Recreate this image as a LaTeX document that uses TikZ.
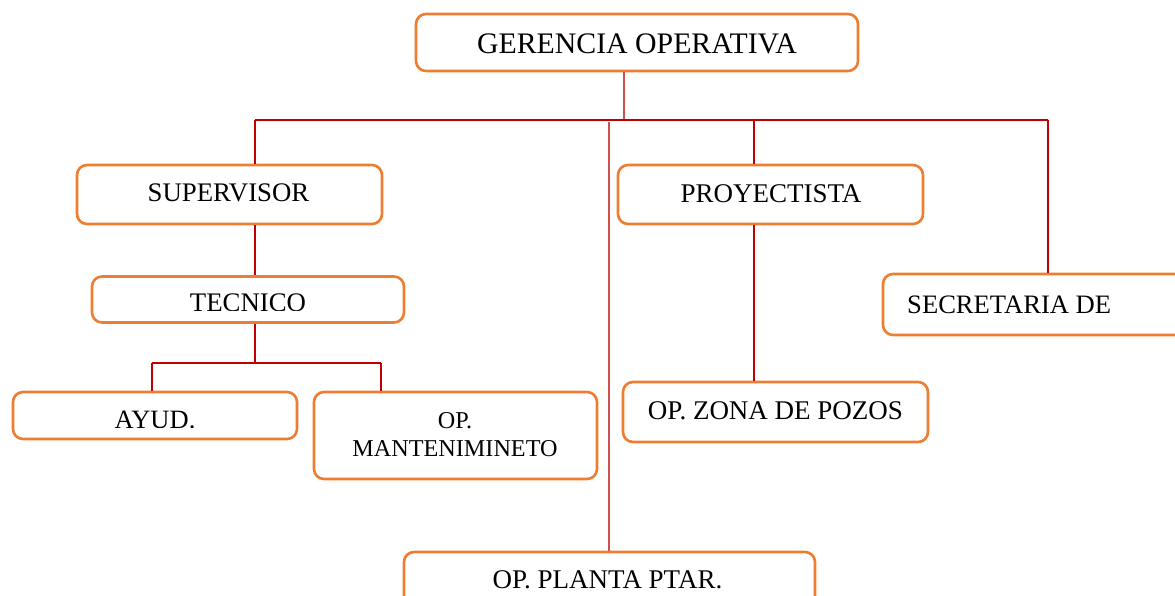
\documentclass[tikz,border=0pt]{standalone}
\usepackage{fontspec}
\setmainfont{Liberation Serif}
\definecolor{boxorange}{HTML}{ED7D31}
\definecolor{linered}{HTML}{C00000}
\definecolor{linepink}{HTML}{D0504D}
\tikzset{
  orgbox/.style={draw=boxorange, line width=2.6pt, rounded corners=10pt, fill=white, inner sep=0pt},
  conn/.style={draw=linered, line width=1.1pt},
  connlight/.style={draw=linepink, line width=1.4pt},
  lbl/.style={anchor=base, inner sep=0pt, text=black}
}
\newcommand{\fs}[1]{\fontsize{#1}{#1}\selectfont}
\begin{document}
\begin{tikzpicture}[x=1pt, y=-1pt]
\useasboundingbox (0,0) rectangle (1175,596);
\clip (0,0) rectangle (1175,596);
\fill[white] (0,0) rectangle (1175,596);

% connector coordinates
\coordinate (gs) at (624,120);
\coordinate (busL) at (255,120);
\coordinate (busR) at (1048,120);
\coordinate (pj) at (754,120);
\coordinate (pl) at (609,122);
\coordinate (b2) at (255,363);
\coordinate (b2L) at (152,363);
\coordinate (b2R) at (381,363);

% boxes
\node[orgbox, minimum width=442pt, minimum height=57pt] (ger) at (637,42.5) {};
\node[orgbox, minimum width=305pt, minimum height=59pt] (sup) at (229.5,194.5) {};
\node[orgbox, minimum width=312pt, minimum height=46pt] (tec) at (248,299.5) {};
\node[orgbox, minimum width=284pt, minimum height=47pt] (ayu) at (155,415.5) {};
\node[orgbox, minimum width=283pt, minimum height=87pt] (man) at (455.5,435.5) {};
\node[orgbox, minimum width=305pt, minimum height=59pt] (pro) at (770.5,194.5) {};
\node[orgbox, minimum width=305pt, minimum height=60pt] (zon) at (775.5,412) {};
\node[orgbox, minimum width=340pt, minimum height=61pt] (sec) at (1053,304.5) {};
\node[orgbox, minimum width=411pt, minimum height=80pt] (pla) at (609.5,592) {};

% connectors
\draw[connlight] (gs |- ger.south) -- (gs);
\draw[conn] (busL) -- (busR);
\draw[conn] (busL) -- (busL |- sup.north);
\draw[conn] (pj) -- (pj |- pro.north);
\draw[conn] (busR) -- (busR |- sec.north);
\draw[connlight] (pl) -- (pl |- pla.north);
\draw[conn] (busL |- sup.south) -- (busL |- tec.north);
\draw[conn] (b2 |- tec.south) -- (b2);
\draw[conn] (b2L) -- (b2R);
\draw[conn] (b2L) -- (b2L |- ayu.north);
\draw[conn] (b2R) -- (b2R |- man.north);
\draw[conn] (pj |- pro.south) -- (pj |- zon.north);

% texts
\node[lbl] (tger) at (637,54) {\fs{29.8}GERENCIA OPERATIVA};
\node[lbl] (tsup) at (228.5,202) {\fs{26.8}SUPERVISOR};
\begin{scope}
  \clip (92,280) rectangle (404,310.3);
  \node[lbl] (ttec) at (248,311) {\fs{26.8}TECNICO};
\end{scope}
\begin{scope}
  \clip (13,395) rectangle (297,427);
  \node[lbl] (tayu) at (155,428.5) {\fs{26.5}AYUD.};
\end{scope}
\node[lbl] (tman1) at (455,428) {\fs{24.2}OP.};
\node[lbl] (tman2) at (455,456) {\fs{24.2}MANTENIMINETO};
\node[lbl] (tpro) at (771,203) {\fs{27}PROYECTISTA};
\node[lbl] (tzon) at (775.5,419) {\fs{27}OP. ZONA DE POZOS};
\node[lbl, anchor=base west] (tsec) at (907,313) {\fs{26.6}SECRETARIA DE};
\node[lbl] (tpla) at (607.5,588) {\fs{27}OP. PLANTA PTAR.};
\end{tikzpicture}
\end{document}
